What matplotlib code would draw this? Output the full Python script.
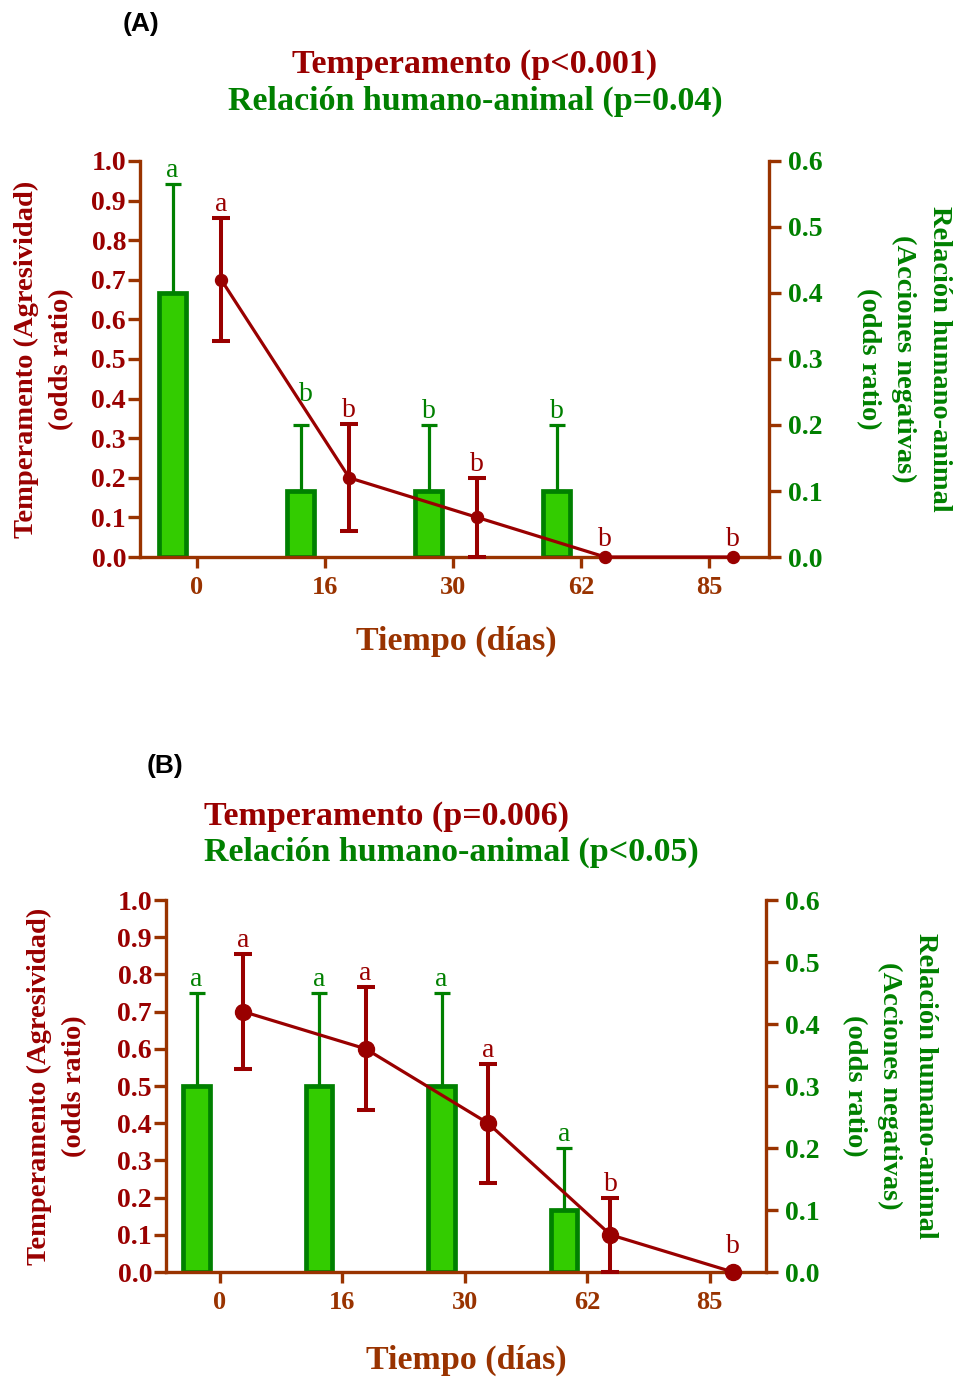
import numpy as np
import matplotlib
matplotlib.use('Agg')
import matplotlib.pyplot as plt

plt.rcParams['font.family'] = ['Liberation Serif', 'DejaVu Serif']
plt.rcParams['font.weight'] = 'bold'

# datos
dias = ['0', '16', '30', '62', '85']
ticks_izq = [0.0, 0.1, 0.2, 0.3, 0.4, 0.5, 0.6, 0.7, 0.8, 0.9, 1.0]
ticks_der = [0.0, 0.1, 0.2, 0.3, 0.4, 0.5, 0.6]

# (A)
a_temp = [0.70, 0.20, 0.10, 0.0, 0.0]
a_temp_err = [0.155, 0.135, 0.10, 0.0, 0.0]
a_temp_let = ['a', 'b', 'b', 'b', 'b']
a_rha = [0.40, 0.10, 0.10, 0.10, 0.0]
a_rha_err = [0.165, 0.10, 0.10, 0.10, 0.0]
a_rha_let = ['a', 'b', 'b', 'b', '']

# (B)
b_temp = [0.70, 0.60, 0.40, 0.10, 0.0]
b_temp_err = [0.155, 0.165, 0.16, 0.10, 0.0]
b_temp_let = ['a', 'a', 'a', 'b', 'b']
b_rha = [0.30, 0.30, 0.30, 0.10, 0.0]
b_rha_err = [0.15, 0.15, 0.15, 0.10, 0.0]
b_rha_let = ['a', 'a', 'a', 'a', '']

ROJO = '#990000'
VERDE = '#008000'
CAFE = '#993300'
RELLENO = '#33CC00'
W, H = 956, 1378


def fx(px):
    return px / W


def fy(py):
    return 1 - py / H


def panel(fig, rect, xlim, temp, temp_err, temp_let, rha, rha_err, rha_let,
          ms, let_off_pt, nudge=None):
    x = np.arange(len(dias))
    temp = np.array(temp)
    temp_err = np.array(temp_err)
    rha = np.array(rha)
    rha_err = np.array(rha_err)

    ax = fig.add_axes(rect)
    ax2 = ax.twinx()
    ax.set_zorder(2)
    ax2.set_zorder(1)
    ax.patch.set_visible(False)

    # barras verdes (eje derecho)
    m = rha > 0
    ax2.bar(x[m] - 0.19, rha[m], width=0.215, color=RELLENO,
            edgecolor=VERDE, linewidth=3.4, zorder=2)
    ax2.errorbar(x[m] - 0.19, rha[m],
                 yerr=[np.zeros(m.sum()), rha_err[m]], fmt='none',
                 ecolor=VERDE, elinewidth=2.3, capsize=5.5,
                 capthick=2.3, zorder=3)
    for i in np.where(m)[0]:
        dx, dy = (0, 0)
        if nudge and i in nudge:
            dx, dy = nudge[i]
        ax2.annotate(rha_let[i], (x[i] - 0.19, rha[i] + rha_err[i]),
                     xytext=(dx, 5 + dy), textcoords='offset points',
                     ha='center', va='baseline', color=VERDE,
                     fontsize=20, fontweight='normal', annotation_clip=False)

    # linea roja (eje izquierdo)
    ax.plot(x + 0.19, temp, color=ROJO, lw=2.3, marker='o', ms=ms,
            clip_on=False, zorder=5)
    k = temp_err > 0
    eb = ax.errorbar(x[k] + 0.19, temp[k], yerr=temp_err[k], fmt='none',
                     ecolor=ROJO, elinewidth=2.9, capsize=6.5, capthick=2.9,
                     zorder=4)
    for art in list(eb.lines[1]) + list(eb.lines[2]):
        art.set_clip_on(False)
    for i in range(len(dias)):
        if temp_err[i] > 0:
            yy, off = temp[i] + temp_err[i], 5
        else:
            yy, off = temp[i], let_off_pt
        ax.annotate(temp_let[i], (x[i] + 0.19, yy), xytext=(0, off),
                    textcoords='offset points', ha='center', va='baseline',
                    color=ROJO, fontsize=20, fontweight='normal',
                    annotation_clip=False)

    ax.set_xlim(*xlim)
    ax.set_ylim(0, 1.0)
    ax2.set_ylim(0, 0.6)
    ax.set_xticks(x)
    ax.set_xticklabels(dias)
    ax.set_yticks(ticks_izq)
    ax.set_yticklabels([f'{v:.1f}' for v in ticks_izq])
    ax2.set_yticks(ticks_der)
    ax2.set_yticklabels([f'{v:.1f}' for v in ticks_der])

    for a in (ax, ax2):
        a.spines['top'].set_visible(False)
        for s in a.spines.values():
            s.set_color(CAFE)
            s.set_linewidth(2.4)
    ax.spines['right'].set_visible(False)
    ax2.spines['left'].set_visible(False)
    ax2.spines['bottom'].set_visible(False)

    ax.tick_params(axis='y', length=8.5, width=2.4, color=CAFE,
                   labelcolor=ROJO, labelsize=20, pad=1.5)
    ax.tick_params(axis='x', length=8, width=2.4, color=CAFE,
                   labelcolor=CAFE, labelsize=19, pad=6)
    ax2.tick_params(axis='y', length=8.5, width=2.4, color=CAFE,
                    labelcolor=VERDE, labelsize=20, pad=5)
    return ax


fig = plt.figure(figsize=(9.56, 13.78), dpi=100)

# ---- (A)
panel(fig, [fx(140), fy(557), fx(769) - fx(140), fy(161) - fy(557)],
      (-0.445, 4.47), a_temp, a_temp_err, a_temp_let,
      a_rha, a_rha_err, a_rha_let, ms=8.6, let_off_pt=8, nudge={1: (4, 12)})
fig.text(fx(141), fy(24), '(A)', family='Liberation Sans', fontsize=19,
         ha='center', va='center', color='black')
fig.text(fx(475), fy(65), 'Temperamento (p<0.001)', fontsize=24.5, color=ROJO,
         ha='center', va='center')
fig.text(fx(475), fy(101), 'Relación humano-animal (p=0.04)', fontsize=24.5,
         color=VERDE, ha='center', va='center')
fig.text(fx(44), fy(359), 'Temperamento (Agresividad)\n(odds ratio)',
         rotation=90, fontsize=20.5, color=ROJO, ha='center', va='center',
         multialignment='center', linespacing=1.55)
fig.text(fx(904), fy(359),
         'Relación humano-animal\n(Acciones negativas)\n(odds ratio)',
         rotation=270, fontsize=20.5, color=VERDE, ha='center', va='center',
         multialignment='center', linespacing=1.55)
fig.text(fx(456), fy(641), 'Tiempo (días)', fontsize=24.5, color=CAFE,
         ha='center', va='center')

# ---- (B)
panel(fig, [fx(166), fy(1272), fx(766) - fx(166), fy(900) - fy(1272)],
      (-0.44, 4.46), b_temp, b_temp_err, b_temp_let,
      b_rha, b_rha_err, b_rha_let, ms=11.5, let_off_pt=14)
fig.text(fx(165), fy(766), '(B)', family='Liberation Sans', fontsize=19,
         ha='center', va='center', color='black')
fig.text(fx(204), fy(816), 'Temperamento (p=0.006)', fontsize=24.5, color=ROJO,
         ha='left', va='center')
fig.text(fx(204), fy(852), 'Relación humano-animal (p<0.05)', fontsize=24.5,
         color=VERDE, ha='left', va='center')
fig.text(fx(57), fy(1086), 'Temperamento (Agresividad)\n(odds ratio)',
         rotation=90, fontsize=20.5, color=ROJO, ha='center', va='center',
         multialignment='center', linespacing=1.55)
fig.text(fx(890), fy(1086),
         'Relación humano-animal\n(Acciones negativas)\n(odds ratio)',
         rotation=270, fontsize=20.5, color=VERDE, ha='center', va='center',
         multialignment='center', linespacing=1.55)
fig.text(fx(466), fy(1360), 'Tiempo (días)', fontsize=24.5, color=CAFE,
         ha='center', va='center')

fig.savefig('out.png', dpi=100)
